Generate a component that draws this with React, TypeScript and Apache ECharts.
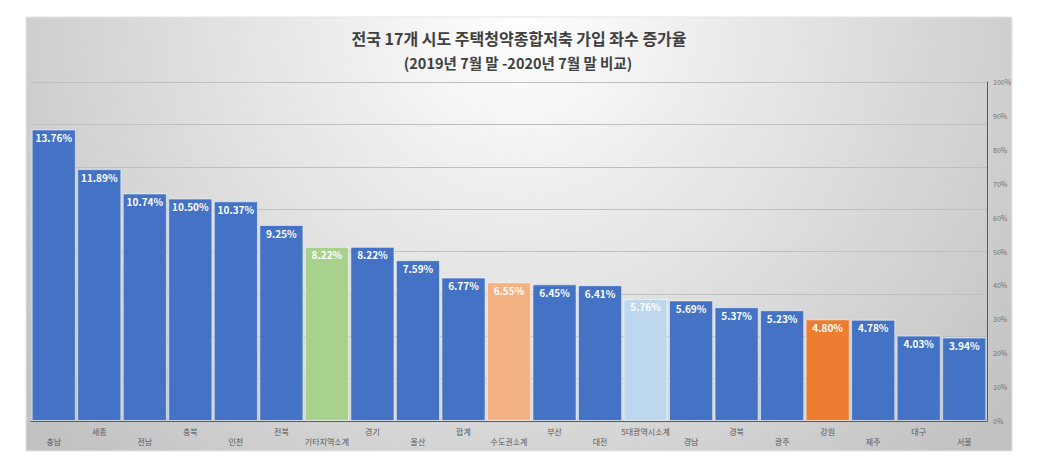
import React, { useEffect, useRef } from "react";
import * as echarts from "echarts";

const categories = [
  "충남", "세종", "전남", "충북", "인천", "전북", "기타지역소계", "경기", "울산", "합계",
  "수도권소계", "부산", "대전", "5대광역시소계", "경남", "경북", "광주", "강원", "제주", "대구", "서울",
];
const growthRates = [
  13.76, 11.89, 10.74, 10.5, 10.37, 9.25, 8.22, 8.22, 7.59, 6.77,
  6.55, 6.45, 6.41, 5.76, 5.69, 5.37, 5.23, 4.8, 4.78, 4.03, 3.94,
];
const rightTickMax = 100;

const titleText = "전국 17개 시도 주택청약종합저축 가입 좌수 증가율";
const subTitleText = "(2019년 7월 말 -2020년 7월 말 비교)";

const DEFAULT_COLOR = "#4472C4";
const highlightColors: Record<string, string> = {
  "기타지역소계": "#A9D18E",
  "수도권소계": "#F4B183",
  "5대광역시소계": "#BDD7EE",
  "강원": "#ED7D31",
};

const FONT = "'Noto Sans CJK KR', 'Noto Sans', sans-serif";

export default function App() {
  const ref = useRef<HTMLDivElement>(null);
  useEffect(() => {
    if (!ref.current) return;
    const chart = echarts.init(ref.current, null, { renderer: "svg" });
    chart.setOption({
      animation: false,
      backgroundColor: "#ffffff",
      textStyle: { fontFamily: FONT },
      graphic: [
        {
          type: "rect",
          z: 0,
          shape: { x: 26, y: 17, width: 986, height: 434 },
          style: {
            fill: {
              type: "radial",
              x: 520,
              y: 20,
              r: 620,
              global: true,
              colorStops: [
                { offset: 0, color: "#ffffff" },
                { offset: 1, color: "#c2c2c2" },
              ],
            },
            stroke: "#e4e4e4",
            lineWidth: 1,
          },
          silent: true,
        },
        {
          type: "text",
          x: 519,
          y: 38,
          style: {
            text: titleText,
            fontFamily: FONT,
            fontSize: 16,
            fontWeight: "bold",
            fill: "#404040",
            align: "center",
            verticalAlign: "middle",
          },
        },
        {
          type: "text",
          x: 518,
          y: 62,
          style: {
            text: subTitleText,
            fontFamily: FONT,
            fontSize: 14.5,
            fontWeight: "bold",
            fill: "#404040",
            align: "center",
            verticalAlign: "middle",
          },
        },
      ],
      grid: { left: 31, right: 54, top: 82, bottom: 46, containLabel: false },
      xAxis: {
        type: "category",
        data: categories,
        axisLine: { show: true, lineStyle: { color: "#595959", width: 1 } },
        axisTick: { show: false },
        axisLabel: {
          interval: 0,
          margin: 5,
          fontSize: 8,
          lineHeight: 10,
          color: "#595959",
          fontFamily: FONT,
          formatter: (v: string, i: number) => (i % 2 === 0 ? "\n" + v : v + "\n"),
        },
      },
      yAxis: [
        {
          type: "value",
          min: 0,
          max: 16,
          interval: 2,
          position: "left",
          axisLine: { show: false },
          axisTick: { show: false },
          axisLabel: { show: false },
          splitLine: { show: true, lineStyle: { color: "#bfbfbf", width: 1 } },
        },
        {
          type: "value",
          min: 0,
          max: rightTickMax,
          interval: 10,
          position: "right",
          axisLine: { show: true, lineStyle: { color: "#595959", width: 1 } },
          axisTick: { show: false },
          splitLine: { show: false },
          axisLabel: {
            margin: 6,
            fontSize: 7,
            color: "#6f6f6f",
            fontFamily: FONT,
            formatter: "{value}%",
          },
        },
      ],
      series: [
        {
          type: "bar",
          yAxisIndex: 0,
          barCategoryGap: "3%",
          data: growthRates.map((v, i) => ({
            value: v,
            itemStyle: { color: highlightColors[categories[i]] || DEFAULT_COLOR },
          })),
          itemStyle: { borderColor: "rgba(255,255,255,0.55)", borderWidth: 1 },
          label: {
            show: true,
            position: "insideTop",
            distance: 3,
            color: "#ffffff",
            fontSize: 10,
            fontWeight: "bold",
            fontFamily: FONT,
            formatter: (p: any) => p.value.toFixed(2) + "%",
          },
        },
      ],
    });
    return () => chart.dispose();
  }, []);
  return (
    <div
      ref={ref}
      style={{ position: "fixed", left: 0, top: 0, width: 1041, height: 467 }}
    />
  );
}
